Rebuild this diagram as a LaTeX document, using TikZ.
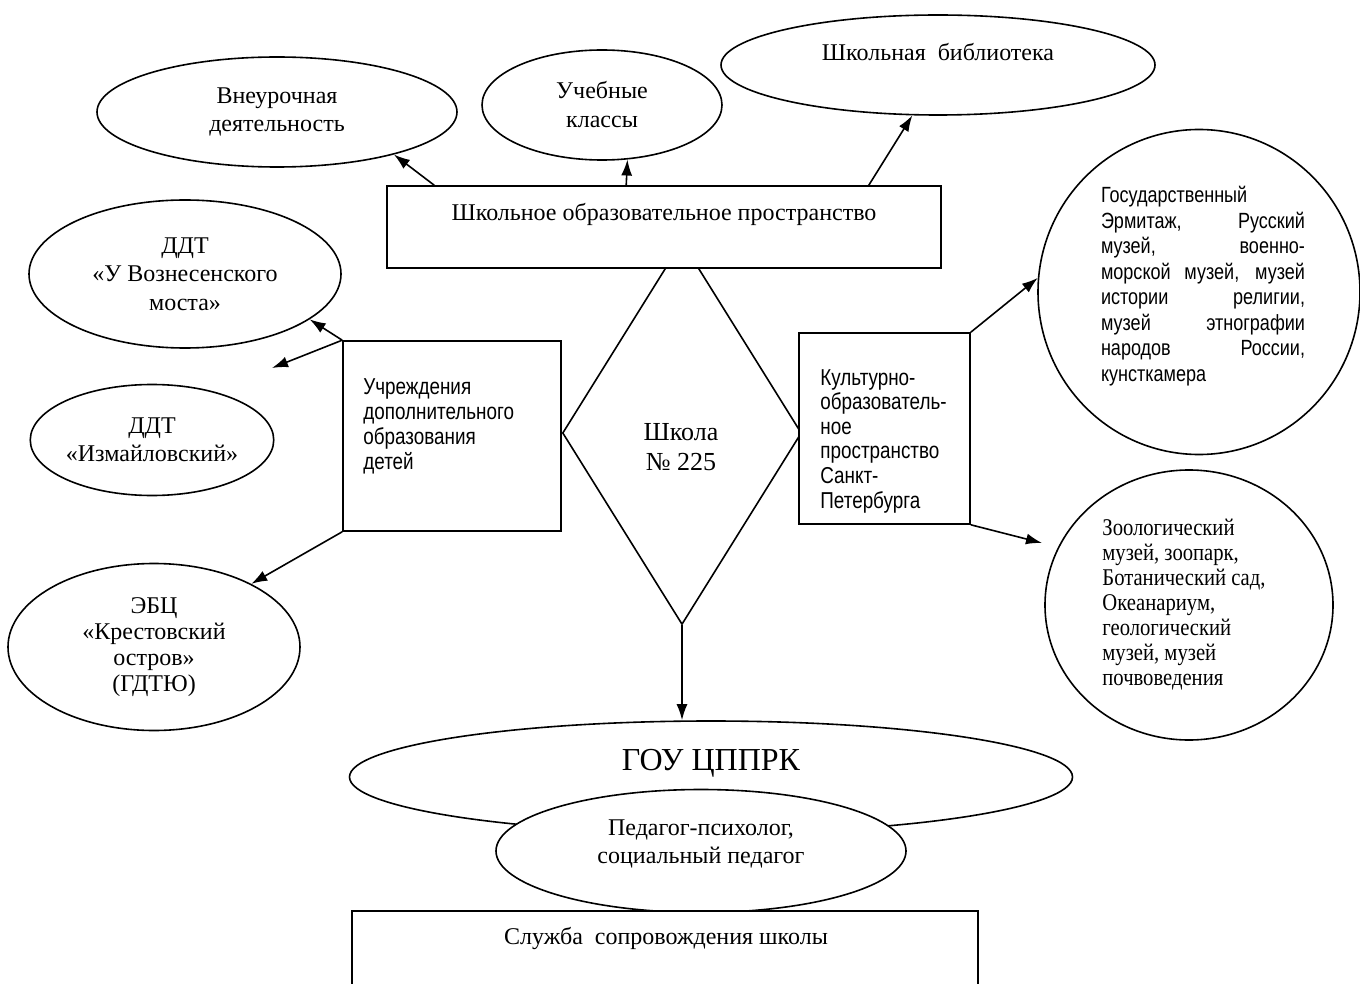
\documentclass[tikz,border=0pt]{standalone}
\usepackage{fontspec}
\setmainfont{Liberation Serif}
\newfontfamily\narrowsans[FakeStretch=0.82]{Liberation Sans}
\newfontfamily\narrowserif[FakeStretch=0.86]{Liberation Serif}
\usetikzlibrary{shapes.geometric,arrows.meta}
\tikzset{
  oval/.style={draw,ellipse,line width=0.8pt,inner sep=0pt,align=center,font=\fontsize{12}{14}\selectfont},
  box/.style={draw,rectangle,line width=0.8pt,inner sep=0pt,fill=white},
  lbl/.style={inner sep=0pt,align=center,font=\fontsize{12}{14}\selectfont},
  link/.style={-{Latex[length=8pt,width=5.5pt]},line width=0.8pt},
}
\begin{document}
\begin{tikzpicture}[x=0.5pt,y=-0.5pt]
\useasboundingbox(0,0) rectangle (1360,984);
\clip(0,0) rectangle (1360,984);
% top row
\node[oval,minimum width=180pt,minimum height=55pt](vne) at (277,112){Внеурочная\\деятельность};
\node[oval,minimum width=120pt,minimum height=55pt,font=\fontsize{12}{14.5}\selectfont](ucheb) at (602,105){Учебные\\классы};
\node[oval,minimum width=217pt,minimum height=50pt](lib) at (938,65){};
\node[lbl](libtxt) at (938,52){Школьная\ \ библиотека};
% centre
\node[draw,diamond,line width=0.8pt,inner sep=0pt,minimum width=119.5pt,minimum height=191.5pt](dia) at (682,433){};
\node[lbl,font=\fontsize{13}{15}\selectfont](diatxt) at (681,447){Школа\\№ 225};
\node[box,minimum width=277pt,minimum height=41pt](sch) at (664,227){};
\node[lbl](schtxt) at (664,214){Школьное образовательное пространство};
% left
\node[box,minimum width=109pt,minimum height=95pt](ud) at (452,436){};
\node[lbl,anchor=west,align=left,font=\narrowsans\fontsize{11.5}{12.5}\selectfont](udtxt) at (363,426){Учреждения\\дополнительного\\образования\\детей};
\node[oval,minimum width=156pt,minimum height=74pt,font=\fontsize{12}{14.25}\selectfont](vozn) at (185,274){ДДТ\\«У Вознесенского\\моста»};
\node[oval,minimum width=119pt,minimum height=55.5pt](izm) at (152,440){ДДТ\\«Измайловский»};
\node[oval,minimum width=146pt,minimum height=83.5pt,font=\fontsize{12}{13}\selectfont](ebc) at (154,647){ЭБЦ\\«Крестовский\\остров»\\(ГДТЮ)};
\coordinate(udfree) at (272,368);
% right
\node[box,minimum width=85.5pt,minimum height=95.5pt](kult) at (884.5,428.5){};
\node[lbl,anchor=west,align=left,font=\narrowsans\fontsize{11.5}{12.3}\selectfont](kulttxt) at (820,441){Культурно-\\образователь-\\ное\\пространство\\Санкт-\\Петербурга};
\node[oval,minimum width=161pt,minimum height=162.5pt](gos) at (1199,292){};
\node[lbl,text width=102pt,align=justify,font=\narrowsans\fontsize{11}{12.75}\selectfont](gostxt) at (1203,286){Государственный\linebreak Эрмитаж, Русский\linebreak музей, военно-\linebreak морской музей, музей\linebreak истории религии,\linebreak музей этнографии\linebreak народов России,\linebreak кунсткамера};
\node[oval,minimum width=144pt,minimum height=135pt](zoo) at (1189,605){};
\node[lbl,anchor=west,align=left,font=\narrowserif\fontsize{12}{12.5}\selectfont](zootxt) at (1102,605){Зоологический\\музей, зоопарк,\\Ботанический сад,\\Океанариум,\\геологический\\музей, музей\\почвоведения};
\coordinate(zoofree) at (1042,543);
% bottom
\node[oval,minimum width=361.5pt,minimum height=56pt](gou) at (711,777){};
\node[lbl,font=\fontsize{16}{18}\selectfont](goutxt) at (711,763){ГОУ ЦППРК};
\node[oval,fill=white,minimum width=205pt,minimum height=61.5pt](ped) at (701,851){};
\node[lbl](pedtxt) at (701,844){Педагог-психолог,\\социальный педагог};
\node[box,anchor=north,minimum width=313pt,minimum height=45pt](slu) at (665,910){};
\node[lbl](slutxt) at (666,938){Служба\ \ сопровождения школы};
% arrows
\draw[link]([xshift=24pt]sch.north west)--(vne.-20);
\draw[link]([xshift=120pt]sch.north west)--(ucheb.-65);
\draw[link]([xshift=-36.5pt]sch.north east)--(lib.243);
\draw[link](ud.north west)--(vozn.-20);
\draw[link](ud.north west)--(udfree);
\draw[link](ud.south west)--(ebc.33);
\draw[link](kult.north east)--(gos.175);
\draw[link](kult.south east)--(zoofree);
\draw[link](dia.south)--(dia.south |- gou.north);
\end{tikzpicture}
\end{document}
